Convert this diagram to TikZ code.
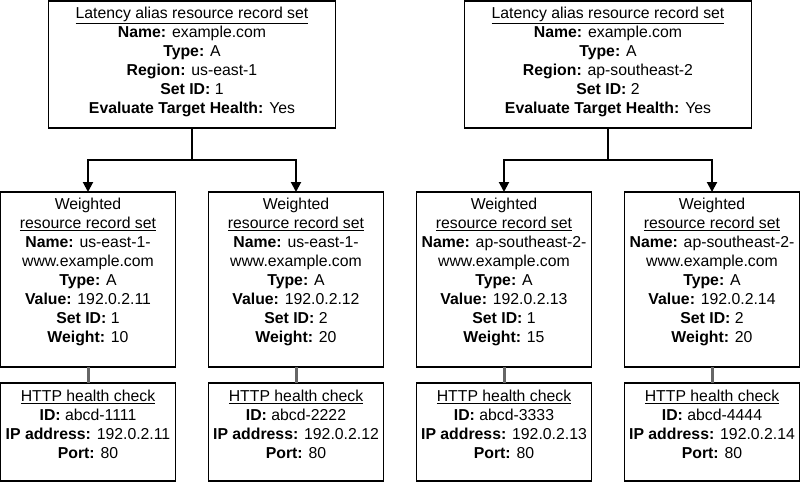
\documentclass[tikz,border=0pt]{standalone}
\usepackage{fontspec}
\setmainfont{Liberation Sans}
\usetikzlibrary{arrows.meta}
\begin{document}
\begin{tikzpicture}[x=1pt,y=-1pt,
  box/.style={draw=black, line width=1.3pt, inner sep=0pt, outer sep=0pt, fill=white},
  topbox/.style={box, minimum width=287pt, minimum height=127pt},
  midbox/.style={box, minimum width=175pt, minimum height=175pt},
  botbox/.style={box, minimum width=175pt, minimum height=98pt},
  txt/.style={anchor=north, align=center, inner sep=0pt, font=\fontsize{15.8}{19}\selectfont, text=black},
  arr/.style={draw=black, line width=2pt},
  arrhead/.style={arr, -{Triangle[width=10pt,length=10pt]}},
  gline/.style={draw=black!60, line width=3pt}
]
\useasboundingbox (0,0) rectangle (801,483);
\newcommand{\fr}{\rule{0pt}{13.5pt}}

% top boxes
\node[topbox] (t1) at (192,64.5) {};
\node[topbox] (t2) at (608,64.5) {};
\node[txt] (t1t) at ([yshift=-4pt]t1.north) {\fr\underline{Latency alias resource record set}\\
  \textbf{Name:} example.com\\ \textbf{Type:} A\\ \textbf{Region:} us-east-1\\
  \textbf{Set ID:} 1\\ \textbf{Evaluate Target Health:} Yes};
\node[txt] (t2t) at ([yshift=-4pt]t2.north) {\fr\underline{Latency alias resource record set}\\
  \textbf{Name:} example.com\\ \textbf{Type:} A\\ \textbf{Region:} ap-southeast-2\\
  \textbf{Set ID:} 2\\ \textbf{Evaluate Target Health:} Yes};

% middle boxes
\node[midbox] (m1) at (88,279.5) {};
\node[midbox] (m2) at (296,279.5) {};
\node[midbox] (m3) at (504,279.5) {};
\node[midbox] (m4) at (712,279.5) {};
\node[txt] (m1t) at ([yshift=-4pt]m1.north) {\fr Weighted\\ \underline{resource record set}\\
  \textbf{Name:} us-east-1-\\ www.example.com\\ \textbf{Type:} A\\ \textbf{Value:} 192.0.2.11\\
  \textbf{Set ID:} 1\\ \textbf{Weight:} 10};
\node[txt] (m2t) at ([yshift=-4pt]m2.north) {\fr Weighted\\ \underline{resource record set}\\
  \textbf{Name:} us-east-1-\\ www.example.com\\ \textbf{Type:} A\\ \textbf{Value:} 192.0.2.12\\
  \textbf{Set ID:} 2\\ \textbf{Weight:} 20};
\node[txt] (m3t) at ([yshift=-4pt]m3.north) {\fr Weighted\\ \underline{resource record set}\\
  \textbf{Name:} ap-southeast-2-\\ www.example.com\\ \textbf{Type:} A\\ \textbf{Value:} 192.0.2.13\\
  \textbf{Set ID:} 1\\ \textbf{Weight:} 15};
\node[txt] (m4t) at ([yshift=-4pt]m4.north) {\fr Weighted\\ \underline{resource record set}\\
  \textbf{Name:} ap-southeast-2-\\ www.example.com\\ \textbf{Type:} A\\ \textbf{Value:} 192.0.2.14\\
  \textbf{Set ID:} 2\\ \textbf{Weight:} 20};

% bottom boxes
\node[botbox] (b1) at (88,432) {};
\node[botbox] (b2) at (296,432) {};
\node[botbox] (b3) at (504,432) {};
\node[botbox] (b4) at (712,432) {};
\node[txt] (b1t) at ([yshift=-4.5pt]b1.north) {\fr\underline{HTTP health check}\\
  \textbf{ID:} abcd-1111\\ \textbf{IP address:} 192.0.2.11\\ \textbf{Port:} 80};
\node[txt] (b2t) at ([yshift=-4.5pt]b2.north) {\fr\underline{HTTP health check}\\
  \textbf{ID:} abcd-2222\\ \textbf{IP address:} 192.0.2.12\\ \textbf{Port:} 80};
\node[txt] (b3t) at ([yshift=-4.5pt]b3.north) {\fr\underline{HTTP health check}\\
  \textbf{ID:} abcd-3333\\ \textbf{IP address:} 192.0.2.13\\ \textbf{Port:} 80};
\node[txt] (b4t) at ([yshift=-4.5pt]b4.north) {\fr\underline{HTTP health check}\\
  \textbf{ID:} abcd-4444\\ \textbf{IP address:} 192.0.2.14\\ \textbf{Port:} 80};

% connectors
\coordinate (j1) at (192,160);
\coordinate (j2) at (608,160);
\draw[arr] (t1.south) -- (j1);
\draw[arrhead] (j1) -| (m1.north);
\draw[arrhead] (j1) -| (m2.north);
\draw[arr] (t2.south) -- (j2);
\draw[arrhead] (j2) -| (m3.north);
\draw[arrhead] (j2) -| (m4.north);

\draw[gline] (m1.south) -- (b1.north);
\draw[gline] (m2.south) -- (b2.north);
\draw[gline] (m3.south) -- (b3.north);
\draw[gline] (m4.south) -- (b4.north);
\end{tikzpicture}
\end{document}
